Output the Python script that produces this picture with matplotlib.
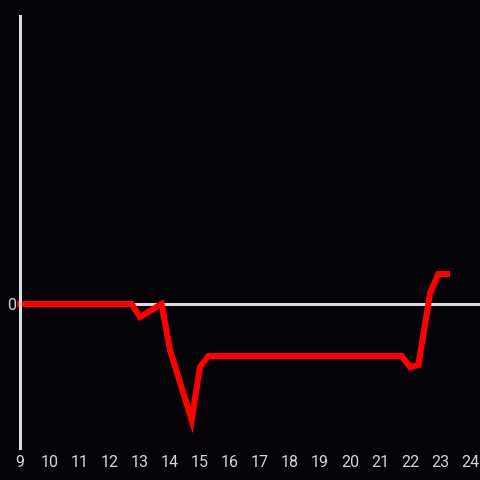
import matplotlib
matplotlib.use("Agg")
import matplotlib.pyplot as plt

# values
hours = [9, 12.72, 13.0, 13.72, 14.0, 14.72, 15.0, 15.28, 21.72, 22.0, 22.28, 22.67, 22.94, 23.23]
level = [0, 0, -1.3, 0, -4.6, -11.6, -6.3, -5.2, -5.2, -6.3, -6.1, 1.1, 3.0, 3.0]
xticks = list(range(9, 25))

bg = "#050307"
fg = "#dcdcdc"

plt.rcParams["font.family"] = ["Roboto", "DejaVu Sans"]

fig = plt.figure(figsize=(4.8, 4.8), dpi=100, facecolor=bg)
ax = fig.add_axes([20 / 480, 32 / 480, 460 / 480, 432 / 480], facecolor=bg)

ax.axhline(0, color=fg, lw=2.2, zorder=1)
ax.plot(hours, level, color="#ff0000", lw=4.4, solid_capstyle="projecting",
        solid_joinstyle="miter", zorder=3, clip_on=False)

ax.set_xlim(9, 9 + 460 / 30)
ax.set_ylim(-14.4, 28.8)
ax.set_xticks(xticks)
ax.set_xticklabels([str(t) for t in xticks])
ax.set_yticks([0])
ax.set_yticklabels(["0"])
ax.tick_params(length=0, colors="#d4d4d4", labelsize=11.5)
ax.tick_params(axis="x", pad=5)
ax.tick_params(axis="y", pad=3)

for s in ["top", "right", "bottom"]:
    ax.spines[s].set_visible(False)
ax.spines["left"].set_color(fg)
ax.spines["left"].set_linewidth(2.2)
ax.spines["left"].set_zorder(4)

fig.savefig("out.png", dpi=100, facecolor=bg)
